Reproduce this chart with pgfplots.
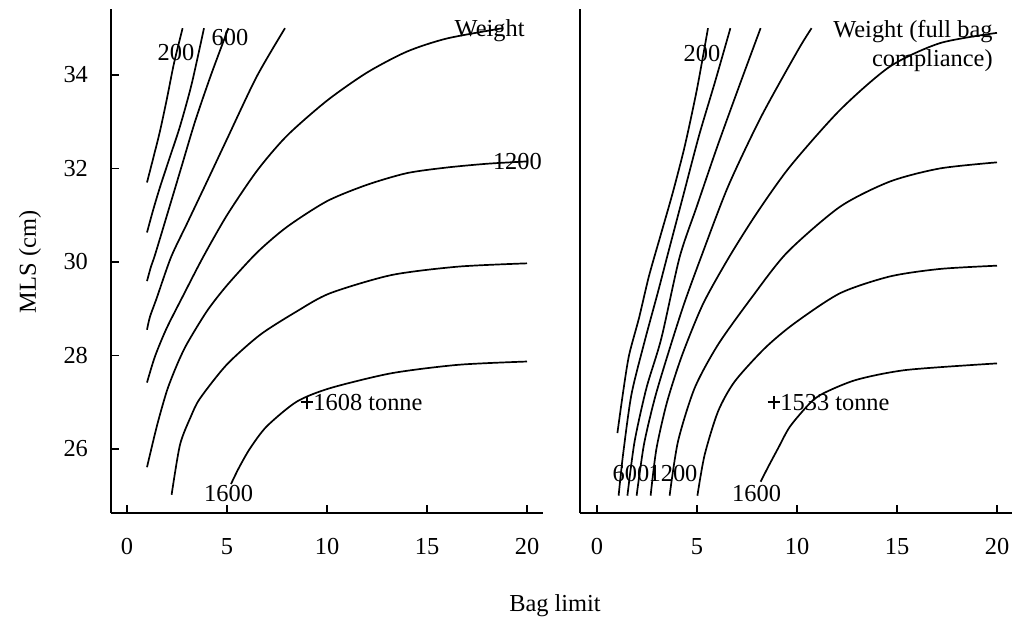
\documentclass[border=0pt]{standalone}
\usepackage{fontspec}
\setmainfont{Liberation Serif}
\usepackage{pgfplots}
\pgfplotsset{compat=1.18}
\begin{document}
\begin{tikzpicture}[font=\fontsize{12.2}{14.5}\selectfont]
\useasboundingbox (0,0) rectangle (506.5pt,311pt);
\pgfplotsset{mystyle/.style={
  anchor=south west, scale only axis, width=216pt, height=252pt,
  ymin=24.63, ymax=35.41,
  axis lines*=left,
  axis line style={line width=0.8pt},
  tick align=inside,
  major tick length=4pt,
  tick style={line width=0.8pt,black},
  xtick={0,5,10,15,20},
  xticklabel style={yshift=-9pt},
  /pgf/number format/assume math mode=true,
  ticklabel style={font=\fontsize{12.2}{14.5}\selectfont},
  clip=false,
}, cont/.style={black, line width=0.85pt, mark=none, smooth, tension=0.45},
plus/.style={black, only marks, mark=+, mark size=3.2pt, mark options={line width=0.9pt, solid}}}
% ---------------- left panel ----------------
\begin{axis}[mystyle, at={(55.5pt,54.5pt)}, xmin=-0.8, xmax=20.8,
  ytick={26,28,30,32,34}, yticklabel style={xshift=-8pt}]
\addplot[cont] coordinates {(1,31.7) (1.3,32.2) (1.65,32.8) (2.0,33.5) (2.35,34.25) (2.78,35)};
\addplot[cont] coordinates {(1,30.63) (1.3,31.1) (1.65,31.6) (2.15,32.25) (2.65,32.9) (3.23,33.8) (3.85,35)};
\addplot[cont] coordinates {(1,29.59) (1.2,29.9) (1.4,30.15) (2.0,31.0) (2.7,32.0) (3.4,33.0) (4.2,34.0) (5.07,35)};
\addplot[cont] coordinates {(1,28.55) (1.15,28.83) (1.48,29.22) (2.2,30.1) (3.0,30.82) (4.0,31.72) (4.98,32.61) (6.48,33.96) (7.9,35)};
\addplot[cont] coordinates {(1,27.42) (1.4,27.98) (1.98,28.58) (2.82,29.29) (3.8,30.1) (5.0,31.0) (6.5,31.95) (8.0,32.7) (10.0,33.45) (12.0,34.05) (14.0,34.5) (16.0,34.78) (18.8,35.0)};
\addplot[cont] coordinates {(1,25.61) (1.5,26.5) (2.0,27.25) (2.5,27.8) (3.0,28.25) (4.0,28.95) (5.0,29.5) (6.5,30.2) (8.0,30.75) (10.0,31.3) (12.0,31.65) (14.0,31.9) (16.0,32.02) (18.0,32.1) (20.0,32.15)};
\addplot[cont] coordinates {(2.23,25.02) (2.65,26.09) (3.2,26.7) (3.65,27.08) (4.98,27.8) (6.65,28.44) (8.48,28.94) (10.15,29.33) (13.23,29.72) (16.57,29.9) (20,29.97)};
\addplot[cont] coordinates {(5.2,25.25) (5.6,25.6) (6.15,26.01) (6.98,26.48) (8.48,27.01) (10.15,27.3) (13.23,27.62) (16.57,27.8) (20,27.87)};
\addplot[plus] coordinates {(9.0,27.0)};
\node[inner sep=0] at (axis cs:2.45,34.49) {200};
\node[inner sep=0] at (axis cs:5.15,34.8) {600};
\node[inner sep=0, anchor=base east] at (axis cs:19.9,34.82) {Weight};
\node[inner sep=0] at (axis cs:19.52,32.14) {1200};
\node[inner sep=0] at (axis cs:5.08,25.04) {1600};
\node[inner sep=0, anchor=base west] at (axis cs:9.3,26.83) {1608 tonne};
\end{axis}
% ---------------- right panel ----------------
\begin{axis}[mystyle, at={(290pt,54.5pt)}, xmin=-0.85, xmax=20.75, ytick=\empty]
\addplot[cont] coordinates {(1.02,26.34) (1.3,27.2) (1.6,28.0) (2.1,28.8) (2.6,29.7) (3.2,30.6) (3.8,31.5) (4.4,32.5) (5.0,33.7) (5.55,35)};
\addplot[cont] coordinates {(1.08,25) (1.3,25.87) (1.72,27.16) (2.38,28.3) (3.05,29.36) (3.5,30.1) (4.3,31.4) (5.1,32.7) (5.9,33.85) (6.67,35)};
\addplot[cont] coordinates {(1.52,25) (1.88,26.16) (2.47,27.3) (3.22,28.37) (4.13,30.1) (5.0,31.2) (6.0,32.45) (7.1,33.75) (8.18,35)};
\addplot[cont] coordinates {(1.98,25) (2.35,26.1) (2.9,27.1) (3.6,28.1) (4.35,29.1) (5.2,30.1) (6.55,31.61) (8.2,33.1) (10.05,34.53) (10.73,35)};
\addplot[cont] coordinates {(2.68,25) (2.97,26.0) (3.5,27.0) (4.25,28.0) (5.3,29.1) (6.6,30.1) (8.0,31.05) (9.65,32.04) (12.15,33.25) (14.65,34.18) (17.15,34.68) (20,34.9)};
\addplot[cont] coordinates {(3.63,25) (4.05,26.16) (4.88,27.3) (6.05,28.23) (7.72,29.23) (9.5,30.2) (12.15,31.18) (14.65,31.72) (17.15,32.0) (20,32.13)};
\addplot[cont] coordinates {(5.02,25) (5.38,25.87) (6.05,26.8) (6.88,27.44) (8.38,28.15) (9.85,28.68) (12.15,29.33) (14.65,29.69) (17.15,29.85) (20,29.92)};
\addplot[cont] coordinates {(8.18,25.3) (8.6,25.65) (9.05,26.01) (9.65,26.48) (10.65,26.98) (11.32,27.19) (12.98,27.48) (15.48,27.69) (20,27.83)};
\addplot[plus] coordinates {(8.85,27.0)};
\node[inner sep=0] at (axis cs:5.25,34.45) {200};
\node[inner sep=0, anchor=base east] at (axis cs:19.8,34.81) {Weight (full bag};
\node[inner sep=0, anchor=base east] at (axis cs:19.8,34.18) {compliance)};
\node[inner sep=0] at (axis cs:1.7,25.48) {600};
\node[inner sep=0] at (axis cs:3.8,25.48) {1200};
\node[inner sep=0] at (axis cs:7.98,25.05) {1600};
\node[inner sep=0, anchor=base west] at (axis cs:9.15,26.83) {1533 tonne};
\end{axis}
\node[rotate=90] at (15pt,180pt) {MLS (cm)};
\node at (277.5pt,8pt) {Bag limit};
\end{tikzpicture}
\end{document}
